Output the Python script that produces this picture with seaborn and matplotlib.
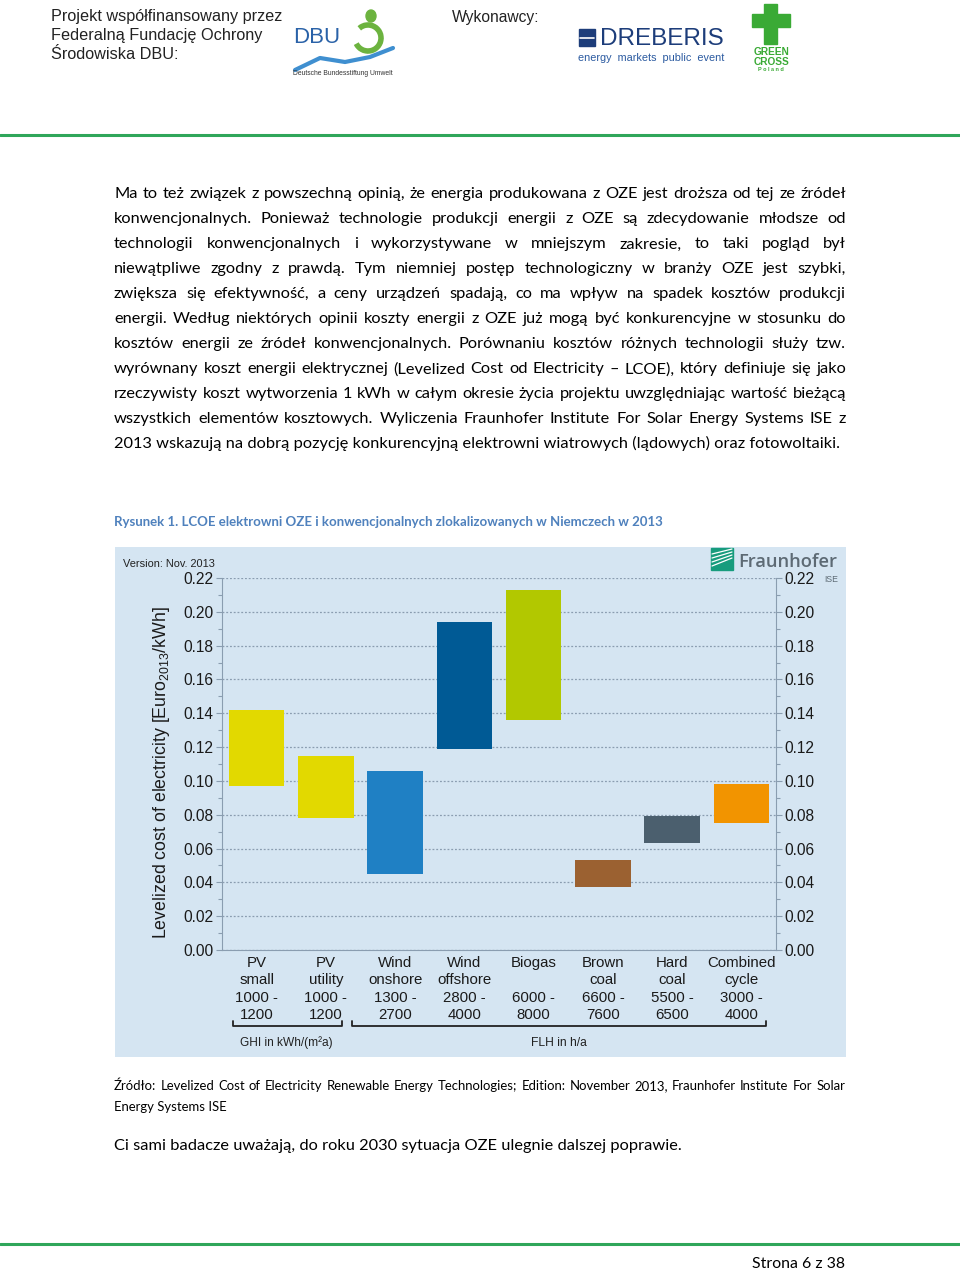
import matplotlib
matplotlib.use("Agg")
import matplotlib.pyplot as plt
import matplotlib.patches as mpatches
from matplotlib.lines import Line2D
from matplotlib.ticker import MultipleLocator, FixedLocator
import seaborn as sns
import pandas as pd

# --- dane wykresu (LCOE 2013, EUR2013/kWh) ---
technologie = ["PV\nsmall", "PV\nutility", "Wind\nonshore", "Wind\noffshore",
               "Biogas\n", "Brown\ncoal", "Hard\ncoal", "Combined\ncycle"]
zakresy = ["1000 -\n1200", "1000 -\n1200", "1300 -\n2700", "2800 -\n4000",
           "6000 -\n8000", "6600 -\n7600", "5500 -\n6500", "3000 -\n4000"]
lcoe_min = [0.097, 0.078, 0.045, 0.119, 0.136, 0.037, 0.063, 0.075]
lcoe_max = [0.142, 0.115, 0.106, 0.194, 0.213, 0.053, 0.079, 0.098]
kolory = ["#e2d900", "#e2d900", "#1f80c4", "#005a95",
          "#b2c800", "#9b6131", "#4b5f6e", "#f29400"]
y_ticki = [0.00, 0.02, 0.04, 0.06, 0.08, 0.10, 0.12, 0.14, 0.16, 0.18, 0.20, 0.22]

# --- tekst strony ---
naglowek = ["Projekt współfinansowany przez", "Federalną Fundację Ochrony", "Środowiska DBU:"]
akapit = [
    "Ma to też związek z powszechną opinią, że energia produkowana z OZE jest droższa od tej ze źródeł",
    "konwencjonalnych.  Ponieważ technologie produkcji energii z OZE są zdecydowanie młodsze od",
    "technologii konwencjonalnych i wykorzystywane w mniejszym zakresie, to taki pogląd był",
    "niewątpliwe zgodny z prawdą. Tym niemniej postęp technologiczny w branży OZE jest szybki,",
    "zwiększa się efektywność, a ceny urządzeń spadają, co ma wpływ na spadek kosztów produkcji",
    "energii. Według niektórych opinii koszty energii z OZE już mogą być konkurencyjne w stosunku do",
    "kosztów energii ze źródeł konwencjonalnych. Porównaniu kosztów różnych technologii służy tzw.",
    "wyrównany koszt energii elektrycznej (Levelized Cost od Electricity – LCOE), który definiuje się jako",
    "rzeczywisty koszt wytworzenia 1 kWh w całym okresie życia projektu uwzględniając wartość bieżącą",
    "wszystkich elementów kosztowych.  Wyliczenia Fraunhofer Institute For Solar Energy Systems ISE z",
    "2013 wskazują na dobrą pozycję konkurencyjną elektrowni wiatrowych (lądowych) oraz fotowoltaiki.",
]
podpis = "Rysunek 1. LCOE elektrowni OZE i konwencjonalnych zlokalizowanych w Niemczech w 2013"
zrodlo = ["Źródło: Levelized Cost of Electricity Renewable Energy Technologies; Edition: November 2013, Fraunhofer Institute For Solar",
          "Energy Systems ISE"]
zdanie = "Ci sami badacze uważają, do roku 2030 sytuacja OZE ulegnie dalszej poprawie."

sns.set_style("white")
ARIAL = ["Liberation Sans", "DejaVu Sans"]
BODY = ["Lato", "DejaVu Sans"]
plt.rcParams["font.family"] = ARIAL
plt.rcParams["mathtext.fontset"] = "custom"
plt.rcParams["mathtext.rm"] = "Liberation Sans"

W, H = 960, 1270
fig = plt.figure(figsize=(9.6, 12.7), dpi=100)
fig.patch.set_facecolor("white")
renderer = fig.canvas.get_renderer()


def fx(x):
    return x / W


def fy(y):
    return 1 - y / H


def tekst(x, y, s, szer=None, rozmiar=10, ha="left", **kw):
    # tekst dopasowany do szerokosci w pikselach, y = srodek linii
    t = fig.text(fx(x), fy(y), s, fontsize=rozmiar, ha=ha, va="baseline", **kw)
    if szer:
        rozmiar = rozmiar * szer / t.get_window_extent(renderer).width
        t.set_fontsize(rozmiar)
    t.set_y(fy(y + 0.33 * rozmiar * 100 / 72))
    return t, rozmiar


def wyjustuj(linia, y, rozmiar, x0=114, x1=846, **kw):
    slowa = linia.split()
    obiekty = [fig.text(0, 0, s, fontsize=rozmiar, va="baseline", **kw) for s in slowa]
    szer = [o.get_window_extent(renderer).width for o in obiekty]
    odstep = (x1 - x0 - sum(szer)) / (len(slowa) - 1)
    x = x0
    yb = y + 0.33 * rozmiar * 100 / 72
    for o, w in zip(obiekty, szer):
        o.set_position((fx(x), fy(yb)))
        x += w + odstep


# --- naglowek ---
t, r_nag = tekst(51, 16, naglowek[0], szer=232, color="#222222")
for i, linia in enumerate(naglowek[1:], start=1):
    tekst(51, 16 + 19 * i, linia, rozmiar=r_nag, color="#222222")
tekst(452, 17, "Wykonawcy:", szer=88, color="#222222")

# logo DBU
tekst(293, 36, "DBU", szer=47, color="#2a62a8")
fig.add_artist(mpatches.Arc((fx(368), fy(38)), 26 / W, 26 / H, theta1=200, theta2=140,
                            transform=fig.transFigure, color="#6cb33f", lw=4))
fig.add_artist(mpatches.Ellipse((fx(371), fy(16)), 10 / W, 12 / H,
                                transform=fig.transFigure, color="#6cb33f"))
fig.add_artist(Line2D([fx(295), fx(320), fx(345), fx(370), fx(393)],
                      [fy(70), fy(58), fy(62), fy(57), fy(48)],
                      transform=fig.transFigure, color="#3f8fd0", lw=3, solid_capstyle="round"))
tekst(293, 73, "Deutsche Bundesstiftung Umwelt", szer=100, color="#333333")

# logo DREBERIS
fig.add_artist(mpatches.Rectangle((fx(579), fy(46)), 16 / W, 17 / H,
                                  transform=fig.transFigure, color="#1d3d7a"))
fig.add_artist(Line2D([fx(580), fx(594)], [fy(38), fy(38)], transform=fig.transFigure,
                      color="white", lw=1.2))
tekst(600, 37, "DREBERIS", szer=124, color="#1d3d7a")
tekst(578, 57, "energy  markets  public  event", szer=146, color="#2b5aa0")

# logo Green Cross
fig.add_artist(mpatches.Rectangle((fx(764), fy(44)), 13 / W, 40 / H,
                                  transform=fig.transFigure, color="#3aaa35"))
fig.add_artist(mpatches.Rectangle((fx(752), fy(27)), 38 / W, 13 / H,
                                  transform=fig.transFigure, color="#3aaa35"))
tekst(771, 52, "GREEN", szer=36, ha="center", weight="bold", color="#3aaa35")
tekst(771, 62, "CROSS", szer=36, ha="center", weight="bold", color="#3aaa35")
tekst(771, 69, "P o l a n d", szer=26, ha="center", weight="bold", color="#3aaa35")

# linie zielone
fig.add_artist(Line2D([0, 1], [fy(135), fy(135)], transform=fig.transFigure, color="#2fa65a", lw=2.2))
fig.add_artist(Line2D([0, 1], [fy(1244), fy(1244)], transform=fig.transFigure, color="#2fa65a", lw=2.2))

# --- akapit ---
t, r_body = tekst(114, 443, akapit[-1], szer=724, family=BODY, color="#000000")
for i, linia in enumerate(akapit[:-1]):
    wyjustuj(linia, 193 + 25 * i, r_body, family=BODY, color="#000000")

tekst(114, 522, podpis, szer=548, family=BODY, weight="bold", color="#4f81bd")

# --- panel wykresu ---
fig.add_artist(mpatches.Rectangle((fx(115), fy(1057)), (846 - 115) / W, (1057 - 547) / H,
                                  transform=fig.transFigure, facecolor="#d5e5f2",
                                  edgecolor="none", zorder=-1))

ax = fig.add_axes([fx(222), fy(950), (776 - 222) / W, (950 - 578) / H])
ax.set_facecolor("none")

df = pd.DataFrame({
    "kategoria": [a + "\n" + b for a, b in zip(technologie, zakresy)],
    "min": lcoe_min,
    "max": lcoe_max,
})
sns.barplot(data=df, x="kategoria", y="max", hue="kategoria", palette=kolory,
            legend=False, saturation=1, width=0.8, linewidth=0, ax=ax, zorder=3)
# slupki "plywajace": od min do max
for bar, lo, hi in zip(ax.patches, lcoe_min, lcoe_max):
    bar.set_y(lo)
    bar.set_height(hi - lo)

ax.set_xlim(-0.5, len(technologie) - 0.5)
ax.set_ylim(0, 0.22)
ax.set_xlabel("")
ax.set_ylabel("")
ax.set_yticks(y_ticki)
ax.set_yticklabels([f"{v:.2f}" for v in y_ticki])
ax.yaxis.set_minor_locator(MultipleLocator(0.01))
ax.xaxis.set_minor_locator(FixedLocator([i + 0.5 for i in range(len(technologie) - 1)]))
ax.yaxis.grid(True, linestyle=(0, (1.5, 1.5)), color="#8a9db0", lw=0.9)
ax.set_axisbelow(True)

siwy = "#8a9db0"
ax.tick_params(axis="y", which="both", left=True, right=True, labelleft=True, labelright=True,
               direction="out", color=siwy, width=0.8, labelcolor="#1a1a1a", labelsize=11.2)
ax.tick_params(axis="y", which="major", length=4, pad=2)
ax.tick_params(axis="y", which="minor", length=3)
ax.tick_params(axis="x", which="major", length=0, pad=4, labelsize=10.8, labelcolor="#1a1a1a")
ax.tick_params(axis="x", which="minor", length=3, direction="inout", color=siwy, width=0.8)
for lbl in ax.get_xticklabels():
    lbl.set_linespacing(1.33)
sns.despine(ax=ax, top=True, right=False)
for s in ["left", "right", "bottom"]:
    ax.spines[s].set_color(siwy)
    ax.spines[s].set_linewidth(0.8)

# opis osi Y (obrocony)
ylab = fig.text(fx(162), fy(773), r"Levelized cost of electricity [Euro$_{2013}$/kWh]",
                rotation=90, ha="center", va="center", fontsize=12, color="#1a1a1a")
ylab.set_fontsize(12 * 333 / ylab.get_window_extent(renderer).height)

tekst(123, 563, "Version: Nov. 2013", szer=92, color="#222222")

# logo Fraunhofer
fig.add_artist(mpatches.Rectangle((fx(711), fy(570)), 22 / W, 22 / H,
                                  transform=fig.transFigure, color="#179c7d"))
for k in range(4):
    fig.add_artist(Line2D([fx(712), fx(732)], [fy(566 - 4 * k), fy(558 - 3 * k)],
                          transform=fig.transFigure, color="white", lw=0.9))
tekst(738, 561, "Fraunhofer", szer=100, family=["Open Sans", "DejaVu Sans"], weight="semibold",
      color="#5d6a74")
tekst(824, 579, "ISE", szer=14, color="#5d6a74")

# klamry pod osia
for x0, x1 in [(233, 342), (352, 766)]:
    fig.add_artist(Line2D([fx(x0), fx(x0), fx(x1), fx(x1)], [fy(1021), fy(1026), fy(1026), fy(1021)],
                          transform=fig.transFigure, color="#222222", lw=1.3))
tekst(286, 1042, "GHI in kWh/(m²a)", szer=93, ha="center", color="#222222")
tekst(559, 1042, "FLH in h/a", szer=56, ha="center", color="#222222")

# --- zrodlo i zakonczenie ---
t, r_src = tekst(114, 1107, zrodlo[1], szer=112, family=BODY, color="#000000")
wyjustuj(zrodlo[0], 1086, r_src, x0=114, x1=845, family=BODY, color="#000000")
tekst(114, 1145, zdanie, szer=563, family=BODY, color="#000000")
tekst(752, 1263, "Strona 6 z 38", szer=93, family=BODY, color="#000000")

fig.savefig("out.png", dpi=100)
